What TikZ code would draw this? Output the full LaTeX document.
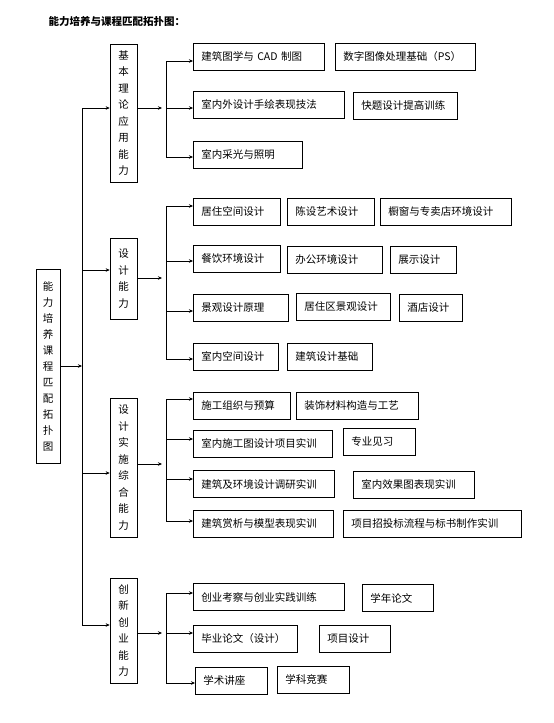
\documentclass[tikz,border=0pt]{standalone}
\usepackage{fontspec}
\setmainfont{Noto Sans CJK SC}
\usetikzlibrary{arrows.meta}

\begin{document}
\begin{tikzpicture}[x=1pt, y=-1pt,
    font=\fontsize{10.5}{16.5}\selectfont,
    leaf/.style={draw, anchor=west, minimum height=27, inner xsep=8pt, inner ysep=0pt, text width=#1-16pt, align=left},
    vbox/.style={draw, minimum width=27, inner sep=0pt, align=center},
    arr/.style={-{Stealth[length=4pt, width=3.5pt]}},
    line width=0.6pt
]
\useasboundingbox (0,0) rectangle (554,723);

\node[anchor=west, font=\fontsize{10.5}{12}\selectfont\bfseries] (title) at (45,21) {能力培养与课程匹配拓扑图：};

% root and the four abilities
\node[vbox, minimum width=24, minimum height=194, font=\fontsize{10.5}{16}\selectfont] (root) at (48,366) {能\\力\\培\\养\\课\\程\\匹\\配\\拓\\扑\\图};
\node[vbox, minimum height=138] (jichu) at (123.5,113) {基\\本\\理\\论\\应\\用\\能\\力};
\node[vbox, minimum height=81] (sheji) at (123.5,278.5) {设\\计\\能\\力};
\node[vbox, minimum height=139] (shishi) at (123.5,467.5) {设\\计\\实\\施\\综\\合\\能\\力};
\node[vbox, minimum height=105] (chuangxin) at (123.5,630.5) {创\\新\\创\\业\\能\\力};

% courses
\node[leaf=131] (cad) at (193,56.5) {建筑图学与 CAD 制图};
\node[leaf=140] (ps) at (335,56.5) {数字图像处理基础（PS）};
\node[leaf=151] (shouhui) at (193,104.5) {室内外设计手绘表现技法};
\node[leaf=104] (kuaiti) at (353,105.5) {快题设计提高训练};
\node[leaf=109] (caiguang) at (193,154.5) {室内采光与照明};

\node[leaf=87] (juzhu) at (193,211.5) {居住空间设计};
\node[leaf=87] (chenshe) at (287,211.5) {陈设艺术设计};
\node[leaf=131] (chuchuang) at (380,211.5) {橱窗与专卖店环境设计};
\node[leaf=87] (canyin) at (193,258.5) {餐饮环境设计};
\node[leaf=95] (bangong) at (287,259.5) {办公环境设计};
\node[leaf=66] (zhanshi) at (390,259.5) {展示设计};
\node[leaf=95] (jingguan) at (193,307.5) {景观设计原理};
\node[leaf=94] (juzhuqu) at (296,307) {居住区景观设计};
\node[leaf=63] (jiudian) at (399,307.5) {酒店设计};
\node[leaf=85] (shinei) at (193,356.5) {室内空间设计};
\node[leaf=85] (jianzhu) at (287,356.5) {建筑设计基础};

\node[leaf=97] (shigong) at (193,405.5) {施工组织与预算};
\node[leaf=122] (zhuangshi) at (296,405.5) {装饰材料构造与工艺};
\node[leaf=139] (shitu) at (193,443.5) {室内施工图设计项目实训};
\node[leaf=72] (jianxi) at (343,441.5) {专业见习};
\node[leaf=141] (diaoyan) at (193,484) {建筑及环境设计调研实训};
\node[leaf=121] (xiaoguo) at (353,484.5) {室内效果图表现实训};
\node[leaf=140] (shangxi) at (193,523.5) {建筑赏析与模型表现实训};
\node[leaf=178] (zhaobiao) at (343,523.5) {项目招投标流程与标书制作实训};

\node[leaf=151] (chuangye) at (193,597) {创业考察与创业实践训练};
\node[leaf=71] (xuenian) at (362,598) {学年论文};
\node[leaf=104] (biye) at (193,639) {毕业论文（设计）};
\node[leaf=71] (xiangmu) at (319,639) {项目设计};
\node[leaf=72] (jiangzuo) at (195,680.5) {学术讲座};
\node[leaf=72] (jingsai) at (277,679.5) {学科竞赛};

% trunk
\coordinate (t1) at (82,108);
\coordinate (t2) at (82,270);
\coordinate (t3) at (82,473);
\coordinate (t4) at (82,625);
\draw (t1) -- (t4);
\draw[arr] (root.east) -- (root.east -| t1);
\draw[arr] (t1) -- (t1 -| jichu.west);
\draw[arr] (t2) -- (t2 -| sheji.west);
\draw[arr] (t3) -- (t3 -| shishi.west);
\draw[arr] (t4) -- (t4 -| chuangxin.west);

% branch 1
\coordinate (o1) at (162,108);
\coordinate (a1) at (166,61);
\coordinate (a2) at (166,108);
\coordinate (a3) at (166,157);
\draw[arr] (o1 -| jichu.east) -- (o1);
\draw (a1) -- (a3);
\draw[arr] (a1) -- (a1 -| cad.west);
\draw[arr] (a2) -- (a2 -| shouhui.west);
\draw[arr] (a3) -- (a3 -| caiguang.west);

% branch 2
\coordinate (o2) at (162,278);
\coordinate (b1) at (166,206);
\coordinate (b2) at (166,261);
\coordinate (b3) at (166,311);
\coordinate (b4) at (166,359);
\draw[arr] (o2 -| sheji.east) -- (o2);
\draw (b1) -- (b4);
\draw[arr] (b1) -- (b1 -| juzhu.west);
\draw[arr] (b2) -- (b2 -| canyin.west);
\draw[arr] (b3) -- (b3 -| jingguan.west);
\draw[arr] (b4) -- (b4 -| shinei.west);

% branch 3
\coordinate (o3) at (162,464);
\coordinate (c1) at (166,399);
\coordinate (c2) at (166,439);
\coordinate (c3) at (166,479);
\coordinate (c4) at (166,521);
\draw[arr] (o3 -| shishi.east) -- (o3);
\draw (c1) -- (c4);
\draw[arr] (c1) -- (c1 -| shigong.west);
\draw[arr] (c2) -- (c2 -| shitu.west);
\draw[arr] (c3) -- (c3 -| diaoyan.west);
\draw[arr] (c4) -- (c4 -| shangxi.west);

% branch 4
\coordinate (o4) at (162,633);
\coordinate (d1) at (166,593);
\coordinate (d2) at (166,633);
\coordinate (d3) at (166,683);
\draw[arr] (o4 -| chuangxin.east) -- (o4);
\draw (d1) -- (d3);
\draw[arr] (d1) -- (d1 -| chuangye.west);
\draw[arr] (d2) -- (d2 -| biye.west);
\draw[arr] (d3) -- (d3 -| jiangzuo.west);
\end{tikzpicture}
\end{document}
